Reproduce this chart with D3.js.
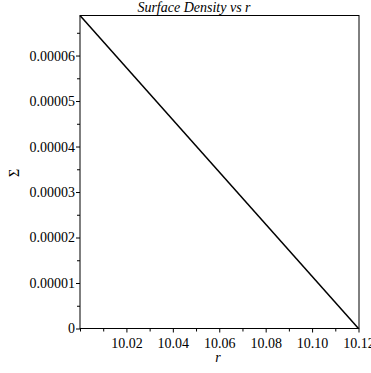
<!DOCTYPE html>
<html>
<head>
<meta charset="utf-8">
<script src="https://cdn.jsdelivr.net/npm/d3@7/dist/d3.min.js"></script>
<style>
  html, body { margin: 0; padding: 0; background: #fff; }
  svg { display: block; }
  text { font-family: "Liberation Serif", "DejaVu Serif", serif; fill: #000; }
</style>
</head>
<body>
<svg id="chart" width="371" height="373"></svg>
<script>
// Surface density Σ as a function of radius r
const rValues = [10.0, 10.12];
const sigmaValues = [0.0000688, 0];

const xTicks = [10.02, 10.04, 10.06, 10.08, 10.10, 10.12];
const xTickLabels = ["10.02", "10.04", "10.06", "10.08", "10.10", "10.12"];
const xMinorTicks = [10.0, 10.01, 10.03, 10.05, 10.07, 10.09, 10.11];
const yTicks = [0, 0.00001, 0.00002, 0.00003, 0.00004, 0.00005, 0.00006];
const yTickLabels = ["0", "0.00001", "0.00002", "0.00003", "0.00004", "0.00005", "0.00006"];
const yMinorTicks = [0.000005, 0.000015, 0.000025, 0.000035, 0.000045, 0.000055, 0.000065];

const svg = d3.select("#chart");
const plotLeft = 80, plotRight = 358.5, plotTop = 15.5, plotBottom = 328.5;

const x = d3.scaleLinear().domain([10.0, 10.12]).range([plotLeft, plotRight]);
const y = d3.scaleLinear().domain([0, 0.0000688]).range([plotBottom, plotTop]);

// plot frame
svg.append("rect")
  .attr("x", plotLeft).attr("y", plotTop)
  .attr("width", 359 - plotLeft).attr("height", plotBottom - plotTop)
  .attr("fill", "none").attr("stroke", "#000").attr("stroke-width", 1);

// x axis
const xAxis = d3.axisBottom(x)
  .tickValues(xTicks)
  .tickFormat((d, i) => xTickLabels[i])
  .tickSize(4).tickPadding(6);
const gx = svg.append("g").attr("transform", `translate(0,${plotBottom})`).call(xAxis);
gx.select(".domain").remove();
gx.selectAll("text").style("font-size", "14px");

svg.append("g").attr("transform", `translate(0,${plotBottom})`)
  .call(d3.axisBottom(x).tickValues(xMinorTicks).tickFormat("").tickSize(3))
  .select(".domain").remove();

// y axis
const yAxis = d3.axisLeft(y)
  .tickValues(yTicks)
  .tickFormat((d, i) => yTickLabels[i])
  .tickSize(4).tickPadding(1);
const gy = svg.append("g").attr("transform", `translate(${plotLeft},0)`).call(yAxis);
gy.select(".domain").remove();
gy.selectAll("text").style("font-size", "14px");

svg.append("g").attr("transform", `translate(${plotLeft},0)`)
  .call(d3.axisLeft(y).tickValues(yMinorTicks).tickFormat("").tickSize(3))
  .select(".domain").remove();

// the curve
const pts = rValues.map((r, i) => [r, sigmaValues[i]]);
svg.append("path")
  .datum(pts)
  .attr("fill", "none")
  .attr("stroke", "#000")
  .attr("stroke-width", 1.5)
  .attr("d", d3.line().x(d => x(d[0])).y(d => y(d[1])));

// title and axis labels
svg.append("text")
  .attr("x", 194).attr("y", 12)
  .attr("text-anchor", "middle")
  .style("font-size", "14px").style("font-style", "italic")
  .text("Surface Density vs r");

svg.append("text")
  .attr("x", 218).attr("y", 362)
  .attr("text-anchor", "middle")
  .style("font-size", "14px").style("font-style", "italic")
  .text("r");

svg.append("text")
  .attr("transform", "translate(19,173) rotate(-90)")
  .attr("text-anchor", "middle")
  .style("font-size", "14px")
  .text("Σ");
</script>
</body>
</html>
